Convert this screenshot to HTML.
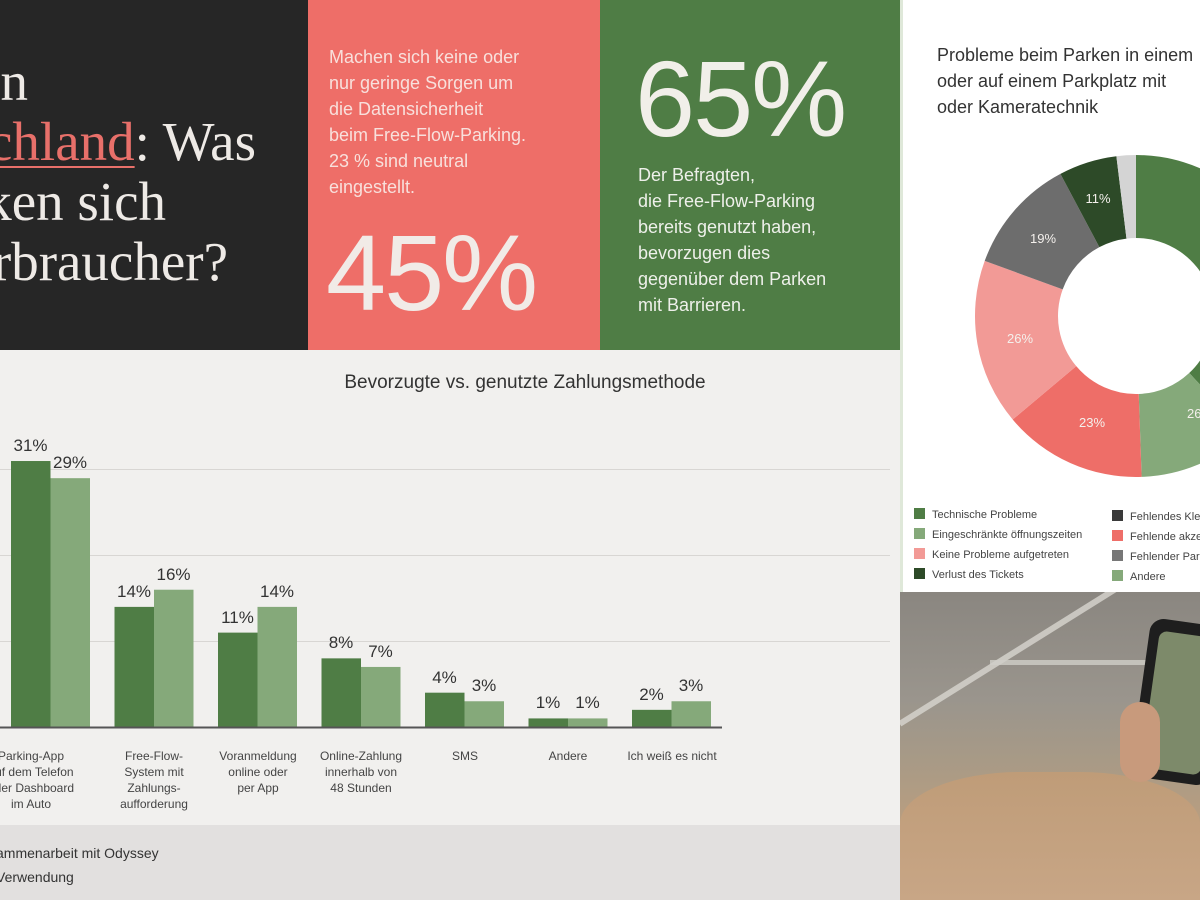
<!DOCTYPE html>
<html><head><meta charset="utf-8"><style>
*{margin:0;padding:0;box-sizing:border-box}
body{width:1200px;height:900px;overflow:hidden;position:relative;font-family:"Liberation Sans",sans-serif;background:#f1f0ee}
.abs{position:absolute}
.ser{font-family:"Liberation Serif",serif;color:#eeeae6;font-size:55px;white-space:nowrap;position:absolute}
.lbl{position:absolute;font-size:12px;color:#444;text-align:center;line-height:16px;width:104px}
.val{position:absolute;font-size:17px;color:#333;text-align:center;width:40px}
.leg{position:absolute;font-size:11px;color:#444;white-space:nowrap}
.leg i{display:inline-block;width:11px;height:11px;vertical-align:-1px;margin-right:7px}
</style></head><body>
<div class="abs" style="left:0;top:0;width:308px;height:350px;background:#262626;overflow:hidden">
 <div class="ser" style="right:280px;top:50px">Parken in</div>
 <div class="ser" style="right:52px;top:110px"><span style="color:#e8706a;text-decoration:underline;text-decoration-thickness:2px;text-underline-offset:6px">Deutschland</span>: Was</div>
 <div class="ser" style="right:142px;top:170px">denken sich</div>
 <div class="ser" style="right:80px;top:230px">Verbraucher?</div>
</div>
<div class="abs" style="left:308px;top:0;width:292px;height:350px;background:#ee6e68;color:#f8e0dc">
 <div class="abs" style="left:21px;top:44px;font-size:18px;line-height:26px">Machen sich keine oder<br>nur geringe Sorgen um<br>die Datensicherheit<br>beim Free-Flow-Parking.<br>23 % sind neutral<br>eingestellt.</div>
 <div class="abs" style="left:18px;top:210px;font-size:108px;color:#f1ebe7;letter-spacing:-2px">45%</div>
</div>
<div class="abs" style="left:600px;top:0;width:300px;height:350px;background:#4f7d45;color:#eef0ea">
 <div class="abs" style="left:35px;top:36px;font-size:108px;color:#f1efe9;letter-spacing:-2px">65%</div>
 <div class="abs" style="left:38px;top:162px;font-size:18px;line-height:26px">Der Befragten,<br>die Free-Flow-Parking<br>bereits genutzt haben,<br>bevorzugen dies<br>gegenüber dem Parken<br>mit Barrieren.</div>
</div>
<div class="abs" style="left:0;top:825px;width:900px;height:75px;background:#e2e0df">
 <div class="abs" style="left:-4px;top:16px;font-size:14px;color:#333;line-height:24px">ammenarbeit mit Odyssey<br>Verwendung</div>
</div>
<div class="abs" style="left:0;top:372px;width:900px;text-align:center;padding-left:150px;font-size:19px;color:#333">Bevorzugte vs. genutzte Zahlungsmethode</div>
<svg class="abs" style="left:0;top:0" width="900" height="900">
 <g stroke="#d8d6d3" stroke-width="1"><line x1="0" y1="469.5" x2="890" y2="469.5"/><line x1="0" y1="555.5" x2="890" y2="555.5"/><line x1="0" y1="641.5" x2="890" y2="641.5"/></g>
 <g id="bars"></g>
 <line x1="0" y1="727.5" x2="722" y2="727.5" stroke="#555" stroke-width="2"/>
</svg>
<div id="vals"></div>
<div class="lbl" style="left:-21px;top:748px">Parking-App<br>auf dem Telefon<br>oder Dashboard<br>im Auto</div>
<div class="lbl" style="left:102px;top:748px">Free-Flow-<br>System mit<br>Zahlungs-<br>aufforderung</div>
<div class="lbl" style="left:206px;top:748px">Voranmeldung<br>online oder<br>per App</div>
<div class="lbl" style="left:309px;top:748px">Online-Zahlung<br>innerhalb von<br>48 Stunden</div>
<div class="lbl" style="left:413px;top:748px">SMS</div>
<div class="lbl" style="left:516px;top:748px">Andere</div>
<div class="lbl" style="left:620px;top:748px">Ich weiß es nicht</div>

<div class="abs" style="left:900px;top:0;width:300px;height:592px;background:#fff;border-left:3px solid #dfe8d9">
 <div class="abs" style="left:34px;top:42px;font-size:18px;line-height:26px;color:#333;white-space:nowrap">Probleme beim Parken in einem<br>oder auf einem Parkplatz mit<br>oder Kameratechnik</div>
</div>
<svg class="abs" style="left:900px;top:0" width="300" height="592" id="donut"></svg>
<div class="leg" style="left:914px;top:508px"><i style="background:#4f7d45"></i>Technische Probleme</div>
<div class="leg" style="left:914px;top:528px"><i style="background:#85a97a"></i>Eingeschränkte öffnungszeiten</div>
<div class="leg" style="left:914px;top:548px"><i style="background:#f29a96"></i>Keine Probleme aufgetreten</div>
<div class="leg" style="left:914px;top:568px"><i style="background:#2d4a28"></i>Verlust des Tickets</div>
<div class="leg" style="left:1112px;top:510px"><i style="background:#3a3a3a"></i>Fehlendes Kleingeld</div>
<div class="leg" style="left:1112px;top:530px"><i style="background:#ee6e68"></i>Fehlende akzeptierte</div>
<div class="leg" style="left:1112px;top:550px"><i style="background:#777"></i>Fehlender Parkschein</div>
<div class="leg" style="left:1112px;top:570px"><i style="background:#85a97a"></i>Andere</div>

<div class="abs" style="left:900px;top:592px;width:300px;height:308px;overflow:hidden;background:linear-gradient(180deg,#8a8680 0%,#9a958d 35%,#a89a86 55%,#b99e80 75%,#c2a283 100%)">
 <div class="abs" style="left:-20px;top:60px;width:260px;height:6px;background:#d8d6d0;transform:rotate(-32deg);opacity:.8"></div>
 <div class="abs" style="left:90px;top:68px;width:210px;height:5px;background:#d0cec8;opacity:.8"></div>
 <div class="abs" style="left:0;top:180px;width:300px;height:130px;background:linear-gradient(180deg,#bf9c78,#c8a686);border-radius:40% 40% 0 0"></div>
 <div class="abs" style="left:240px;top:30px;width:80px;height:160px;background:#1e1e1e;border-radius:14px;transform:rotate(8deg)"></div>
 <div class="abs" style="left:250px;top:42px;width:60px;height:138px;background:#7d8a6a;border-radius:8px;transform:rotate(8deg)"></div>
 <div class="abs" style="left:220px;top:110px;width:40px;height:80px;background:#c89a7c;border-radius:20px"></div>
</div>

<script>
var d=[[31,29],[14,16],[11,14],[8,7],[4,3],[1,1],[2,3]],s=8.58,g='',v='';
d.forEach(function(p,i){var x=11+i*103.5;
p.forEach(function(val,j){var h=val*s,xx=x+j*39.5;
g+='<rect x="'+xx+'" y="'+(727-h)+'" width="39.5" height="'+h+'" fill="'+(j?'#85a97a':'#4f7d45')+'"/>';
v+='<div class="val" style="left:'+(xx-0.5)+'px;top:'+(727-h-25)+'px">'+val+'%</div>';});});
document.getElementById('bars').innerHTML=g;document.getElementById('vals').innerHTML=v;
var cx=236,cy=316,R=161,r=78,segs=[[0,137,'#4f7d45'],[137,178,'#85a97a'],[178,230,'#ee6e68'],[230,290,'#f29a96'],[290,332,'#6d6d6d'],[332,353,'#2d4a28'],[353,360,'#d4d4d4']],o='';
function pt(a,rr){a=(a-90)*Math.PI/180;return (cx+rr*Math.cos(a)).toFixed(2)+' '+(cy+rr*Math.sin(a)).toFixed(2);}
segs.forEach(function(q){var l=(q[1]-q[0])>180?1:0;
o+='<path d="M'+pt(q[0],R)+' A'+R+' '+R+' 0 '+l+' 1 '+pt(q[1],R)+' L'+pt(q[1],r)+' A'+r+' '+r+' 0 '+l+' 0 '+pt(q[0],r)+'Z" fill="'+q[2]+'"/>';});
var t=[[198,203,'11%'],[143,243,'19%'],[120,343,'26%'],[192,427,'23%'],[300,418,'26%']];
t.forEach(function(q){o+='<text x="'+q[0]+'" y="'+q[1]+'" fill="#f4f0ec" font-size="13" text-anchor="middle" font-family="Liberation Sans">'+q[2]+'</text>';});
document.getElementById('donut').innerHTML=o;
</script>
</body></html>
